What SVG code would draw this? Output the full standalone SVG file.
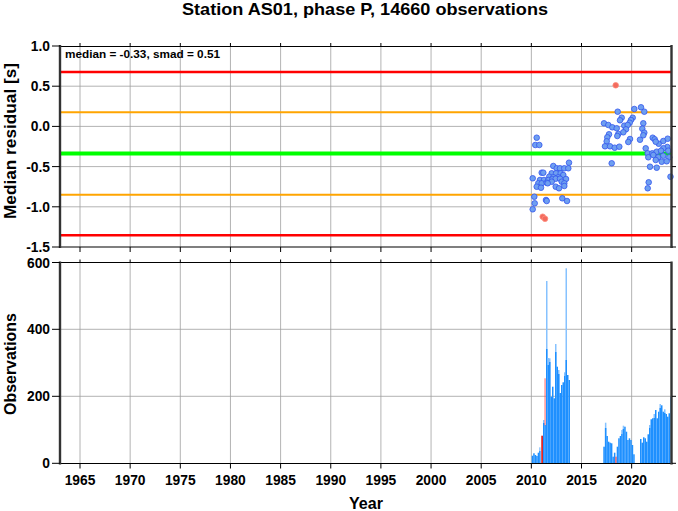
<svg xmlns="http://www.w3.org/2000/svg" width="678" height="511" viewBox="0 0 678 511">
<style>
text{font-family:"Liberation Sans",Arial,sans-serif;font-weight:bold;fill:#000}
.t{font-size:13.8px}
.ty{text-anchor:end}
.tx{text-anchor:middle}
.grid{stroke:#a0a0a0;stroke-width:0.8;fill:none}
.tick{stroke:#000;stroke-width:1;fill:none}
.fr{stroke:#000;stroke-width:1.2;fill:none}
.fs{stroke:#333;stroke-width:2.4;fill:none}
.p{fill:#6e9ff0;stroke:#3355ee;stroke-width:0.8}
.pr{fill:#f26b5e;stroke:#ff8a7a;stroke-width:0.8}
.bd{fill:#1e90ff}
.bl{fill:#86c2ff}
</style>
<rect width="678" height="511" fill="#fff"/>
<text x="365" y="15" class="tx" style="font-size:16.5px" textLength="366" lengthAdjust="spacingAndGlyphs">Station AS01, phase P, 14660 observations</text>

<g id="top-plot">
<g class="grid">
<path d="M80.00 46V247M130.15 46V247M180.30 46V247M230.45 46V247M280.60 46V247M330.75 46V247M380.90 46V247M431.05 46V247M481.20 46V247M531.35 46V247M581.50 46V247M631.65 46V247"/>
<path d="M60 86.2H672M60 126.4H672M60 166.6H672M60 206.8H672"/>
</g>
<g id="ref-lines">
<line x1="60" y1="72" x2="672" y2="72" stroke="#ff0000" stroke-width="2.4"/>
<line x1="60" y1="112.3" x2="672" y2="112.3" stroke="#ffa500" stroke-width="2"/>
<line x1="60" y1="153.6" x2="672" y2="153.6" stroke="#00ff00" stroke-width="4"/>
<line x1="60" y1="194.7" x2="672" y2="194.7" stroke="#ffa500" stroke-width="2"/>
<line x1="60" y1="235.3" x2="672" y2="235.3" stroke="#ff0000" stroke-width="2.4"/>
</g>
<g id="points">
<circle class="p" cx="536.7" cy="137.7" r="2.8"/>
<circle class="p" cx="535.3" cy="145" r="2.8"/>
<circle class="p" cx="539.3" cy="145" r="2.8"/>
<circle class="p" cx="569" cy="162.7" r="2.8"/>
<circle class="p" cx="553.3" cy="166" r="2.8"/>
<circle class="p" cx="556.7" cy="168.3" r="2.8"/>
<circle class="p" cx="560" cy="168.3" r="2.8"/>
<circle class="p" cx="564.3" cy="168.3" r="2.8"/>
<circle class="p" cx="568.3" cy="168.3" r="2.8"/>
<circle class="p" cx="541.7" cy="172.7" r="2.8"/>
<circle class="p" cx="543.3" cy="172.7" r="2.8"/>
<circle class="p" cx="551.7" cy="173.3" r="2.8"/>
<circle class="p" cx="556" cy="173.3" r="2.8"/>
<circle class="p" cx="560.7" cy="173.3" r="2.8"/>
<circle class="p" cx="549.3" cy="176.7" r="2.8"/>
<circle class="p" cx="553.3" cy="177.3" r="2.8"/>
<circle class="p" cx="558.3" cy="177.3" r="2.8"/>
<circle class="p" cx="563.3" cy="175" r="2.8"/>
<circle class="p" cx="532.7" cy="178.3" r="2.8"/>
<circle class="p" cx="540" cy="180" r="2.8"/>
<circle class="p" cx="544" cy="180" r="2.8"/>
<circle class="p" cx="548.3" cy="180" r="2.8"/>
<circle class="p" cx="552.3" cy="179.3" r="2.8"/>
<circle class="p" cx="555.7" cy="178.7" r="2.8"/>
<circle class="p" cx="560" cy="178.7" r="2.8"/>
<circle class="p" cx="566" cy="179" r="2.8"/>
<circle class="p" cx="538.3" cy="183.3" r="2.8"/>
<circle class="p" cx="541.7" cy="183.3" r="2.8"/>
<circle class="p" cx="546.7" cy="182.7" r="2.8"/>
<circle class="p" cx="551.7" cy="181.7" r="2.8"/>
<circle class="p" cx="561.7" cy="181.7" r="2.8"/>
<circle class="p" cx="564.3" cy="183.3" r="2.8"/>
<circle class="p" cx="536.7" cy="186.7" r="2.8"/>
<circle class="p" cx="541" cy="187.7" r="2.8"/>
<circle class="p" cx="547.7" cy="183.3" r="2.8"/>
<circle class="p" cx="555.7" cy="186.7" r="2.8"/>
<circle class="p" cx="559" cy="188.3" r="2.8"/>
<circle class="p" cx="564.3" cy="186" r="2.8"/>
<circle class="p" cx="534.3" cy="196.7" r="2.8"/>
<circle class="p" cx="546" cy="200" r="2.8"/>
<circle class="p" cx="546.7" cy="201" r="2.8"/>
<circle class="p" cx="562.3" cy="198.3" r="2.8"/>
<circle class="p" cx="567" cy="201" r="2.8"/>
<circle class="p" cx="534.7" cy="203.3" r="2.8"/>
<circle class="p" cx="532.7" cy="209.3" r="2.8"/>
<circle class="pr" cx="542.7" cy="216.7" r="2.8"/>
<circle class="pr" cx="545" cy="218.7" r="2.8"/>
<circle class="p" cx="617.7" cy="111.7" r="2.8"/>
<circle class="p" cx="634.3" cy="109" r="2.8"/>
<circle class="p" cx="641" cy="107.3" r="2.8"/>
<circle class="p" cx="644.3" cy="111.7" r="2.8"/>
<circle class="p" cx="621.7" cy="117.7" r="2.8"/>
<circle class="p" cx="620" cy="120.3" r="2.8"/>
<circle class="p" cx="632.7" cy="117.7" r="2.8"/>
<circle class="p" cx="631" cy="120" r="2.8"/>
<circle class="p" cx="629.7" cy="122.7" r="2.8"/>
<circle class="p" cx="604" cy="123.3" r="2.8"/>
<circle class="p" cx="608.3" cy="125" r="2.8"/>
<circle class="p" cx="612.3" cy="127.3" r="2.8"/>
<circle class="p" cx="616.7" cy="128.3" r="2.8"/>
<circle class="p" cx="624.3" cy="125.7" r="2.8"/>
<circle class="p" cx="627.7" cy="125" r="2.8"/>
<circle class="p" cx="626" cy="129.3" r="2.8"/>
<circle class="p" cx="623.3" cy="132.3" r="2.8"/>
<circle class="p" cx="618.3" cy="134" r="2.8"/>
<circle class="p" cx="617.3" cy="136" r="2.8"/>
<circle class="p" cx="609" cy="134.3" r="2.8"/>
<circle class="p" cx="607.3" cy="137.3" r="2.8"/>
<circle class="p" cx="606.7" cy="141.3" r="2.8"/>
<circle class="p" cx="605" cy="146.3" r="2.8"/>
<circle class="p" cx="610" cy="146.3" r="2.8"/>
<circle class="p" cx="614.7" cy="147.7" r="2.8"/>
<circle class="p" cx="619.3" cy="146.7" r="2.8"/>
<circle class="p" cx="630" cy="139" r="2.8"/>
<circle class="p" cx="628.3" cy="142" r="2.8"/>
<circle class="p" cx="640" cy="139.7" r="2.8"/>
<circle class="p" cx="643.3" cy="123.3" r="2.8"/>
<circle class="p" cx="642.3" cy="128.7" r="2.8"/>
<circle class="p" cx="644.3" cy="132.7" r="2.8"/>
<circle class="p" cx="643.3" cy="135.3" r="2.8"/>
<circle class="p" cx="652.7" cy="137.7" r="2.8"/>
<circle class="p" cx="654.7" cy="139.3" r="2.8"/>
<circle class="p" cx="658.7" cy="143.7" r="2.8"/>
<circle class="p" cx="655.7" cy="141.7" r="2.8"/>
<circle class="p" cx="663.3" cy="141" r="2.8"/>
<circle class="p" cx="667.7" cy="138.7" r="2.8"/>
<circle class="p" cx="667.3" cy="147" r="2.8"/>
<circle class="p" cx="663.3" cy="148.3" r="2.8"/>
<circle class="p" cx="645.7" cy="148.3" r="2.8"/>
<circle class="p" cx="647.7" cy="153.3" r="2.8"/>
<circle class="p" cx="652.3" cy="153.3" r="2.8"/>
<circle class="p" cx="656.7" cy="151.7" r="2.8"/>
<circle class="p" cx="661" cy="150.7" r="2.8"/>
<circle class="p" cx="668.3" cy="150.7" r="2.8"/>
<circle class="p" cx="648.3" cy="157.3" r="2.8"/>
<circle class="p" cx="653.3" cy="155" r="2.8"/>
<circle class="p" cx="658.3" cy="157.3" r="2.8"/>
<circle class="p" cx="663.3" cy="155.7" r="2.8"/>
<circle class="p" cx="669.3" cy="157.3" r="2.8"/>
<circle class="p" cx="655.7" cy="160" r="2.8"/>
<circle class="p" cx="661.7" cy="161.7" r="2.8"/>
<circle class="p" cx="666.7" cy="161.3" r="2.8"/>
<circle class="p" cx="611.7" cy="163.3" r="2.8"/>
<circle class="p" cx="650" cy="166.7" r="2.8"/>
<circle class="p" cx="656.7" cy="167.7" r="2.8"/>
<circle class="p" cx="670.5" cy="176.7" r="2.8"/>
<circle class="p" cx="648.7" cy="182.3" r="2.8"/>
<circle class="p" cx="647.7" cy="188.3" r="2.8"/>
<circle class="pr" cx="615.7" cy="85.3" r="2.8"/>
</g>
<g id="top-frame">
<path class="fr" d="M60 46.5H672M60 247H672"/>
<path class="fs" d="M60 45V248M671.5 45V248"/>
<path class="tick" d="M52 46H60M52 86.2H60M52 126.4H60M52 166.6H60M52 206.8H60M52 247H60"/>
<path class="tick" d="M672 86.2H676M672 126.4H676M672 166.6H676M672 206.8H676M672 247H676"/>
<path class="tick" d="M80 247V252M130.15 247V252M180.3 247V252M230.45 247V252M280.6 247V252M330.75 247V252M380.9 247V252M431.05 247V252M481.2 247V252M531.35 247V252M581.5 247V252M631.65 247V252"/>
<path class="tick" d="M80 46V43M130.15 46V43M180.3 46V43M230.45 46V43M280.6 46V43M330.75 46V43M380.9 46V43M431.05 46V43M481.2 46V43M531.35 46V43M581.5 46V43M631.65 46V43"/>
</g>
<g class="t ty">
<text x="50" y="51">1.0</text>
<text x="50" y="91.2">0.5</text>
<text x="50" y="131.4">0.0</text>
<text x="50" y="171.6">-0.5</text>
<text x="50" y="211.8">-1.0</text>
<text x="50" y="252">-1.5</text>
</g>
<text x="65" y="57.5" style="font-size:11.8px" textLength="155" lengthAdjust="spacingAndGlyphs">median = -0.33, smad = 0.51</text>
<text transform="translate(16,141) rotate(-90)" class="tx" style="font-size:16.5px" textLength="156" lengthAdjust="spacingAndGlyphs">Median residual [s]</text>
</g>

<g id="bottom-plot">
<g class="grid">
<path d="M80.00 262.5V463M130.15 262.5V463M180.30 262.5V463M230.45 262.5V463M280.60 262.5V463M330.75 262.5V463M380.90 262.5V463M431.05 262.5V463M481.20 262.5V463M531.35 262.5V463M581.50 262.5V463M631.65 262.5V463"/>
<path d="M60 329.3H672M60 396.3H672"/>
</g>
<g id="bars">
<rect class="bd" x="531.7" y="455.7" width="1.5" height="7.6"/>
<rect class="bd" x="533.2" y="453.3" width="1.5" height="10"/>
<rect class="bd" x="534.7" y="455" width="1.5" height="8.3"/>
<rect class="bd" x="536.2" y="456" width="1.5" height="7.3"/>
<rect class="bd" x="537.7" y="452.7" width="1.5" height="10.6"/>
<rect class="bl" x="539.2" y="447.3" width="1.3" height="16"/>
<rect class="bd" x="539.2" y="451" width="1.3" height="12.3"/>
<rect x="541.3" y="435.7" width="1.6" height="27.6" fill="#dd1010"/>
<rect class="bl" x="543" y="420" width="1.5" height="43.3"/>
<rect class="bd" x="543" y="423" width="1.5" height="40.3"/>
<rect class="bd" x="544.5" y="425" width="1.4" height="38.3"/>
<rect x="544.6" y="378.3" width="0.9" height="47" fill="#ff5050"/>
<rect class="bl" x="546" y="281" width="1.5" height="182.3"/>
<rect class="bd" x="546" y="349" width="1.5" height="114.3"/>
<rect class="bl" x="547.5" y="358" width="1.5" height="105.3"/>
<rect class="bd" x="547.5" y="365" width="1.5" height="98.3"/>
<rect class="bl" x="549" y="358.3" width="1.5" height="105"/>
<rect class="bd" x="549" y="362" width="1.5" height="101.3"/>
<rect class="bd" x="550.5" y="396.7" width="1.5" height="66.6"/>
<rect class="bd" x="552" y="386.7" width="1.5" height="76.6"/>
<rect class="bd" x="553.5" y="398.3" width="1.5" height="65"/>
<rect class="bl" x="555" y="344" width="1.5" height="119.3"/>
<rect class="bd" x="555" y="352" width="1.5" height="111.3"/>
<rect class="bd" x="556.5" y="366.7" width="1.5" height="96.6"/>
<rect class="bl" x="558" y="370" width="1.5" height="93.3"/>
<rect class="bd" x="558" y="374" width="1.5" height="89.3"/>
<rect class="bd" x="559.5" y="393" width="1.5" height="70.3"/>
<rect class="bd" x="561" y="385" width="1.5" height="78.3"/>
<rect class="bd" x="562.5" y="382.3" width="1.5" height="81"/>
<rect class="bl" x="564" y="372.3" width="1.5" height="91"/>
<rect class="bd" x="564" y="376" width="1.5" height="87.3"/>
<rect class="bl" x="565.5" y="268.3" width="1.5" height="195"/>
<rect class="bd" x="565.5" y="360" width="1.5" height="103.3"/>
<rect class="bd" x="567" y="375" width="1.5" height="88.3"/>
<rect class="bd" x="568.5" y="380" width="1.5" height="83.3"/>
<rect class="bd" x="603.3" y="446.7" width="1.6" height="16.6"/>
<rect class="bl" x="604.9" y="422.7" width="1.5" height="40.6"/>
<rect class="bd" x="604.9" y="428" width="1.5" height="35.3"/>
<rect class="bd" x="606.4" y="436" width="1.5" height="27.3"/>
<rect class="bd" x="607.9" y="441.7" width="1.5" height="21.6"/>
<rect class="bd" x="609.4" y="442.7" width="1.5" height="20.6"/>
<rect class="bd" x="610.9" y="443.3" width="1.5" height="20"/>
<rect class="bd" x="612.4" y="456.7" width="1.5" height="6.6"/>
<rect class="bd" x="613.9" y="452.7" width="1.5" height="10.6"/>
<rect x="615.3" y="456.7" width="1.4" height="6.6" fill="#ff5050"/>
<rect class="bd" x="616.7" y="446.7" width="1.5" height="16.6"/>
<rect class="bd" x="618.2" y="438.3" width="1.5" height="25"/>
<rect class="bd" x="619.7" y="436" width="1.5" height="27.3"/>
<rect class="bl" x="621.2" y="430" width="1.5" height="33.3"/>
<rect class="bd" x="621.2" y="434" width="1.5" height="29.3"/>
<rect class="bl" x="622.7" y="425.7" width="1.5" height="37.6"/>
<rect class="bd" x="622.7" y="429" width="1.5" height="34.3"/>
<rect class="bd" x="624.2" y="426.7" width="1.5" height="36.6"/>
<rect class="bd" x="625.7" y="431.7" width="1.5" height="31.6"/>
<rect class="bd" x="627.2" y="440" width="1.5" height="23.3"/>
<rect class="bd" x="628.7" y="438.3" width="1.5" height="25"/>
<rect class="bd" x="630.2" y="440" width="1.5" height="23.3"/>
<rect class="bd" x="631.7" y="445" width="1.5" height="18.3"/>
<rect class="bd" x="633.2" y="454.3" width="1.5" height="9"/>
<rect class="bd" x="640" y="439" width="1.5" height="24.3"/>
<rect class="bd" x="641.5" y="442.7" width="1.5" height="20.6"/>
<rect class="bd" x="643" y="437.3" width="1.5" height="26"/>
<rect class="bd" x="644.5" y="438.3" width="1.5" height="25"/>
<rect class="bd" x="646" y="441.7" width="1.5" height="21.6"/>
<rect class="bd" x="647.5" y="434.3" width="1.5" height="29"/>
<rect class="bl" x="649" y="425" width="1.5" height="38.3"/>
<rect class="bd" x="649" y="428" width="1.5" height="35.3"/>
<rect class="bd" x="650.5" y="419.3" width="1.5" height="44"/>
<rect class="bd" x="652" y="418.3" width="1.5" height="45"/>
<rect class="bl" x="653.5" y="414" width="1.5" height="49.3"/>
<rect class="bd" x="653.5" y="418" width="1.5" height="45.3"/>
<rect class="bd" x="655" y="410" width="1.5" height="53.3"/>
<rect class="bd" x="656.5" y="418.3" width="1.5" height="45"/>
<rect class="bd" x="658" y="411.7" width="1.5" height="51.6"/>
<rect class="bl" x="659.5" y="404" width="1.5" height="59.3"/>
<rect class="bd" x="659.5" y="408" width="1.5" height="55.3"/>
<rect class="bd" x="661" y="405.3" width="1.5" height="58"/>
<rect class="bd" x="662.5" y="411.7" width="1.5" height="51.6"/>
<rect class="bl" x="664" y="409.3" width="1.5" height="54"/>
<rect class="bd" x="664" y="413" width="1.5" height="50.3"/>
<rect class="bd" x="665.5" y="414" width="1.5" height="49.3"/>
<rect class="bd" x="667" y="416.7" width="1.5" height="46.6"/>
<rect class="bd" x="668.5" y="413.3" width="1.5" height="50"/>
<rect class="bl" x="670" y="396.7" width="1.5" height="66.6"/>
</g>
<g id="bottom-frame">
<path class="fr" d="M60 262.5H672M60 463.5H672"/>
<path class="fs" d="M60 261.5V464.5M671.5 261.5V464.5"/>
<path class="tick" d="M52 262.5H60M52 329.3H60M52 396.3H60M52 463.3H60"/>
<path class="tick" d="M672 329.3H676M672 396.3H676M672 463.3H676"/>
<path class="tick" d="M80 463.5V468.5M130.15 463.5V468.5M180.3 463.5V468.5M230.45 463.5V468.5M280.6 463.5V468.5M330.75 463.5V468.5M380.9 463.5V468.5M431.05 463.5V468.5M481.2 463.5V468.5M531.35 463.5V468.5M581.5 463.5V468.5M631.65 463.5V468.5"/>
<path class="tick" d="M80 262.5V259.5M130.15 262.5V259.5M180.3 262.5V259.5M230.45 262.5V259.5M280.6 262.5V259.5M330.75 262.5V259.5M380.9 262.5V259.5M431.05 262.5V259.5M481.2 262.5V259.5M531.35 262.5V259.5M581.5 262.5V259.5M631.65 262.5V259.5"/>
</g>
<g class="t ty">
<text x="50" y="267.5">600</text>
<text x="50" y="334.3">400</text>
<text x="50" y="401.3">200</text>
<text x="50" y="468.3">0</text>
</g>
<g class="t tx">
<text x="80" y="485">1965</text>
<text x="130.15" y="485">1970</text>
<text x="180.3" y="485">1975</text>
<text x="230.45" y="485">1980</text>
<text x="280.6" y="485">1985</text>
<text x="330.75" y="485">1990</text>
<text x="380.9" y="485">1995</text>
<text x="431.05" y="485">2000</text>
<text x="481.2" y="485">2005</text>
<text x="531.35" y="485">2010</text>
<text x="581.5" y="485">2015</text>
<text x="631.65" y="485">2020</text>
</g>
<text transform="translate(16,364) rotate(-90)" class="tx" style="font-size:16.5px" textLength="102" lengthAdjust="spacingAndGlyphs">Observations</text>
<text x="366" y="509" class="tx" style="font-size:16.5px" textLength="34" lengthAdjust="spacingAndGlyphs">Year</text>
</g>
</svg>
